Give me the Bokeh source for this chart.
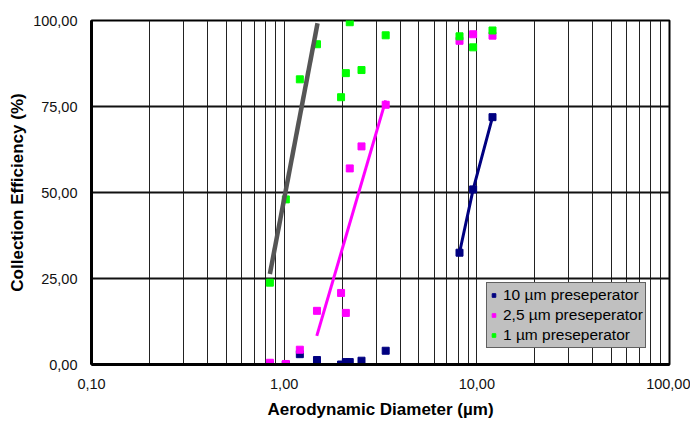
from bokeh.plotting import figure
from bokeh.models import Range1d, FixedTicker, CustomJSTickFormatter, Legend, LegendItem
from bokeh.embed import file_html
from bokeh.resources import INLINE

# ---- data ----
diameter = [0.843, 1.02, 1.206, 1.48, 1.974, 2.09, 2.19, 2.52, 3.365, 8.13, 9.57, 12.06]
eff_10um = [0.0, 0.0, 3.0, 1.3, 0.0, 0.7, 0.7, 1.1, 4.0, 32.5, 50.9, 71.9]
eff_2_5um = [0.5, 0.15, 4.3, 15.6, 20.8, 15.0, 57.0, 63.4, 75.5, 94.1, 96.0, 95.6]
eff_1um = [23.8, 48.0, 82.9, 93.1, 77.7, 84.7, 99.5, 85.6, 95.7, 95.4, 92.2, 97.1]
trend_1um_x = [0.843, 1.49]
trend_1um_y = [26.3, 99.2]
trend_2_5um_x = [1.477, 3.365]
trend_2_5um_y = [8.3, 76.8]
x_ticks = [0.1, 1, 10, 100]
x_grid = [0.2, 0.3, 0.4, 0.5, 0.6, 0.7, 0.8, 0.9, 1, 2, 3, 4, 5, 6, 7, 8, 9, 10,
          20, 30, 40, 50, 60, 70, 80, 90]
y_ticks = [0, 25, 50, 75, 100]
labels = ["10 µm preseperator", "2,5 µm preseperator", "1 µm preseperator"]

FONT = "Liberation Sans"

p = figure(width=690, height=423, x_axis_type="log",
           x_range=Range1d(0.1, 100), y_range=Range1d(0, 100),
           output_backend="svg", toolbar_location=None,
           min_border_left=91, min_border_right=21, min_border_top=20, min_border_bottom=59)
p.background_fill_color = "white"
p.border_fill_color = "white"
p.outline_line_color = "black"
p.outline_line_width = 2

# grids
p.xgrid.ticker = FixedTicker(ticks=x_grid)
p.xgrid.grid_line_color = "#222222"
p.xgrid.grid_line_width = 1
p.ygrid.ticker = FixedTicker(ticks=[25, 50, 75])
p.ygrid.grid_line_color = "#111111"
p.ygrid.grid_line_width = 2

fmt = CustomJSTickFormatter(code="return tick.toFixed(2).replace('.', ',');")
p.xaxis.ticker = FixedTicker(ticks=x_ticks, minor_ticks=[])
p.yaxis.ticker = FixedTicker(ticks=y_ticks, minor_ticks=[])
for ax in (p.xaxis[0], p.yaxis[0]):
    ax.formatter = fmt
    ax.major_tick_out = 0
    ax.major_tick_in = 0
    ax.minor_tick_out = 0
    ax.minor_tick_in = 0
    ax.axis_line_width = 3
    ax.axis_line_color = "black"
    ax.major_label_text_font = FONT
    ax.major_label_text_font_size = "14.5px"
    ax.major_label_text_color = "#111111"
    ax.axis_label_text_font = FONT
    ax.axis_label_text_font_size = "17px"
    ax.axis_label_text_font_style = "bold"
    ax.axis_label_text_color = "black"
p.xaxis.axis_label = "Aerodynamic Diameter (µm)"
p.yaxis.axis_label = "Collection Efficiency (%)"
p.xaxis.major_label_standoff = 14
p.xaxis.axis_label_standoff = 8
p.yaxis.major_label_standoff = 14
p.yaxis.axis_label_standoff = 3

# markers
r1 = p.scatter(diameter, eff_10um, marker="square", size=7, color="#000080")
r2 = p.scatter(diameter, eff_2_5um, marker="square", size=7, color="#FF00FF")
r3 = p.scatter(diameter, eff_1um, marker="square", size=7, color="#00FF00")

# lines
p.line(diameter[9:], eff_10um[9:], line_color="#000080", line_width=3)
p.line(trend_2_5um_x, trend_2_5um_y, line_color="#FF00FF", line_width=3)
p.line(trend_1um_x, trend_1um_y, line_color="#555555", line_width=4.5)

legend = Legend(items=[LegendItem(label=labels[0], renderers=[r1]),
                       LegendItem(label=labels[1], renderers=[r2]),
                       LegendItem(label=labels[2], renderers=[r3])],
                location=(395, 16), orientation="vertical")
legend.background_fill_color = "#C0C0C0"
legend.background_fill_alpha = 1
legend.border_line_color = "black"
legend.border_line_width = 1
legend.label_text_font = FONT
legend.label_text_font_size = "15.5px"
legend.label_text_color = "black"
legend.glyph_width = 9
legend.glyph_height = 20
legend.label_height = 20
legend.label_standoff = 5
legend.spacing = 0
legend.padding = 2
legend.margin = 0
p.add_layout(legend, "center")

open("out.html", "w").write(file_html(p, INLINE))
